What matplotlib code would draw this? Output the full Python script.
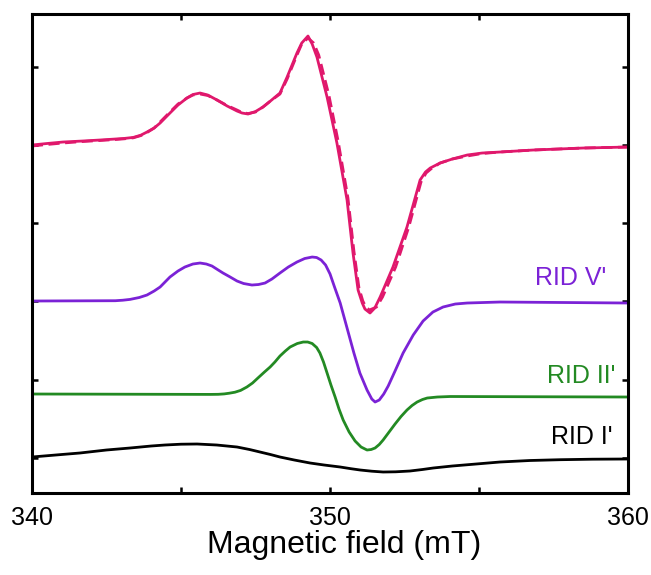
import matplotlib
matplotlib.use('Agg')
import matplotlib.pyplot as plt

plt.rcParams['font.family'] = ['Liberation Sans', 'DejaVu Sans']

# -----------------------------------------------------------------------------
# data (field in mT, signal in arbitrary offset units)
# -----------------------------------------------------------------------------
exp_B = [340.00, 340.50, 341.04, 341.70, 342.28, 342.80, 343.10, 343.40, 343.65,
         343.86, 344.10, 344.30, 344.63, 344.90, 345.20, 345.40, 345.64, 345.90,
         346.21, 346.55, 346.88, 347.05, 347.25, 347.50, 347.75, 348.00, 348.32,
         348.56, 348.89, 349.05, 349.26, 349.40, 349.56, 349.90, 350.23, 350.57,
         350.77, 350.94, 351.08, 351.17, 351.34, 351.50, 351.68, 352.11, 352.58,
         353.02, 353.20, 353.36, 353.69, 354.10, 354.60, 355.10, 355.70, 356.81,
         358.49, 360.00]
exp_I = [348, 349.5, 351, 352, 353, 354, 354.6, 355.6, 357.8,
         361, 365, 370, 380, 388, 395, 398.5, 400, 398,
         393, 387, 382, 380, 379, 381.5, 386, 392, 400,
         416, 440, 450, 457, 449, 436, 396, 350, 293,
         240, 203, 190, 184, 180, 185, 196, 226, 266,
         313, 321, 325, 330, 334, 338, 340, 341, 343,
         345, 346]

fit_B = [340.00, 340.50, 341.04, 341.70, 342.28, 342.80, 343.10, 343.40, 343.65,
         343.86, 344.10, 344.30, 344.63, 344.90, 345.20, 345.40, 345.64, 345.90,
         346.21, 346.55, 346.88, 347.05, 347.25, 347.50, 347.75, 348.00, 348.32,
         348.56, 348.89, 349.05, 349.26, 349.45, 349.62, 349.96, 350.27, 350.60,
         350.80, 350.97, 351.10, 351.20, 351.32, 351.56, 351.76, 352.20, 352.64,
         353.05, 353.22, 353.38, 353.69, 354.10, 354.60, 355.10, 355.70, 356.81,
         358.49, 360.00]
fit_I = [347, 348.5, 350, 351.5, 352.5, 353.5, 354.2, 355.2, 357.4,
         360.5, 365, 371, 381, 389, 395, 398, 399, 397.5,
         393, 387.5, 383, 380.5, 379.5, 381, 386, 392, 399,
         414, 438, 449, 455, 450, 438, 398, 352, 295,
         242, 205, 192, 186, 183, 186, 196, 226, 266,
         311, 320, 324, 330, 334, 337, 339.5, 341, 343,
         345, 346]

v_B = [340.00, 342.80, 343.05, 343.29, 343.60, 343.86, 344.10, 344.30, 344.63,
       344.90, 345.13, 345.40, 345.64, 345.85, 346.04, 346.25, 346.41, 346.65,
       346.88, 347.10, 347.38, 347.60, 347.82, 348.05, 348.32, 348.60, 348.89,
       349.15, 349.40, 349.55, 349.70, 349.85, 350.00, 350.15, 350.34, 350.57,
       350.80, 351.00, 351.24, 351.40, 351.51, 351.65, 351.80, 351.95, 352.18,
       352.45, 352.79, 353.12, 353.45, 353.79, 354.20, 354.60, 355.70, 360.00]
v_I = [192, 192.3, 192.8, 193.6, 195.5, 198, 202, 206, 216,
       222, 226, 229, 230, 229, 227, 223, 220, 216,
       212, 209.5, 208, 208.5, 210, 214, 220, 226, 231,
       234.5, 236, 235.5, 233, 228, 219, 206, 190, 165,
       140, 120, 103, 94, 91, 93, 99, 107, 122,
       140, 158, 172, 181, 186, 189, 190, 191, 190]

ii_B = [340.00, 346.00, 346.25, 346.45, 346.62, 346.81, 347.00, 347.21, 347.40,
        347.58, 347.80, 347.99, 348.15, 348.32, 348.50, 348.66, 348.90, 349.10,
        349.25, 349.40, 349.55, 349.66, 349.78, 349.90, 350.03, 350.17, 350.30,
        350.44, 350.64, 350.84, 351.04, 351.24, 351.38, 351.51, 351.65, 351.78,
        351.98, 352.18, 352.38, 352.58, 352.75, 352.92, 353.10, 353.26, 353.60,
        354.03, 360.00]
ii_I = [99, 98.6, 98.7, 99.1, 99.8, 100.8, 102.6, 106, 110,
        115, 121, 126, 131, 137, 142, 146, 149.5, 151,
        151, 149.5, 145.5, 140, 131, 120, 108, 96, 84,
        73, 61, 52, 46, 43, 43.5, 45, 48.5, 53,
        61, 69, 76.5, 83, 87.5, 91, 93.5, 95, 96,
        96.5, 96]

i_B = [340.00, 341.00, 341.61, 342.50, 343.29, 344.00, 344.46, 345.00, 345.54,
       346.20, 346.88, 347.30, 347.65, 348.00, 348.32, 348.80, 349.33, 349.80,
       350.34, 350.70, 351.01, 351.40, 351.78, 352.20, 352.68, 353.10, 353.46,
       354.10, 354.70, 355.70, 356.70, 357.72, 358.80, 360.00]
i_I = [36, 38.5, 40, 43, 45, 47, 48, 48.8, 49,
       48, 46, 43.5, 41, 38.5, 36, 33, 30, 28,
       26, 24.3, 23, 21.8, 21, 21.2, 22, 23.5, 25,
       27, 28.5, 31, 32.5, 33.3, 33.8, 34]

labels = ["RID V'", "RID II'", "RID I'"]
label_pos = [(359.25, 215), (359.56, 117), (359.46, 56)]

PINK = '#e0186c'
PURPLE = '#7b22d6'
GREEN = '#238a23'

# -----------------------------------------------------------------------------
# figure
# -----------------------------------------------------------------------------
fig = plt.figure(figsize=(6.51, 5.75), dpi=100)
ax = fig.add_axes([0.049, 0.1426, 0.916, 0.833])

lw = 2.0
ax.plot(exp_B, exp_I, color=PINK, lw=lw, solid_joinstyle='round')
ax.plot(fit_B, fit_I, color=PINK, lw=lw, ls=(0, (4, 2)))
ax.plot(v_B, v_I, color=PURPLE, lw=lw, solid_joinstyle='round')
ax.plot(ii_B, ii_I, color=GREEN, lw=lw, solid_joinstyle='round')
ax.plot(i_B, i_I, color='black', lw=lw, solid_joinstyle='round')

for txt, (x, y), c in zip(labels, label_pos, [PURPLE, GREEN, 'black']):
    ax.text(x, y, txt, color=c, fontsize=18, ha='right', va='center')

ax.set_xlim(340, 360)
ax.set_ylim(0, 479)
ax.set_xticks([340, 345, 350, 355, 360])
ax.set_xticklabels(['340', '', '350', '', '360'])
ax.set_yticks([35, 113, 192, 270, 348, 426])
ax.set_yticklabels([])
ax.tick_params(direction='in', length=4.5, width=1.8, top=True, right=True,
               labelsize=18, pad=9)
for s in ax.spines.values():
    s.set_linewidth(2.2)

fig.text(0.529, 0.026, 'Magnetic field (mT)', fontsize=23, ha='center', va='bottom')

fig.savefig('out.png', dpi=100)
